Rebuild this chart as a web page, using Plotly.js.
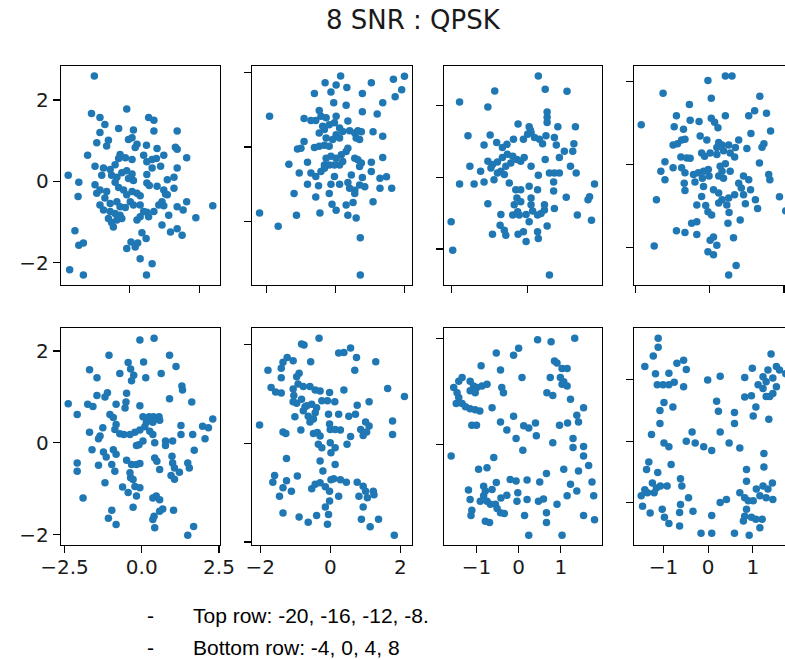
<!DOCTYPE html>
<html>
<head>
<meta charset="utf-8">
<script src="https://cdn.plot.ly/plotly-3.0.1.min.js"></script>
<style>
html,body{margin:0;padding:0;overflow:hidden;background:#fff;}
#chart{width:800px;height:660px;}
</style>
</head>
<body>
<div id="chart"></div>
<script>
// ---- Data: received QPSK symbols [in-phase, quadrature] per SNR (dB) ----
const snrLevels = [-20, -16, -12, -8, -4, 0, 4, 8];

const snr_m20 = [[-0.99,2.59],[-0.07,1.78],[-1.07,1.67],[-0.83,1.57],[-0.69,1.40],[-0.30,1.30],[0.12,1.26],[0.08,1.07],[-0.02,1.03],[0.55,1.57],[0.70,1.50],[0.70,1.24],[1.36,1.24],[-0.83,1.20],[-0.59,1.01],[-0.92,0.95],[-0.64,0.87],[0.22,0.91],[0.49,0.89],[0.79,0.81],[0.98,0.64],[1.31,0.84],[1.36,0.79],[-1.18,0.64],[-0.26,0.66],[-0.30,0.56],[-0.11,0.58],[0.08,0.54],[0.41,0.64],[0.50,0.48],[0.65,0.54],[0.65,0.33],[0.89,0.37],[1.63,0.58],[1.36,0.33],[-0.97,0.37],[-0.73,0.33],[-0.78,0.15],[-0.54,0.29],[-0.40,0.41],[-0.50,0.15],[-0.35,0.10],[-0.21,0.21],[-0.07,0.26],[0.08,0.18],[-0.02,0.07],[0.12,0.02],[-1.73,0.15],[-1.43,-0.02],[-1.45,-0.37],[-0.97,-0.08],[-0.92,-0.29],[-0.83,-0.21],[-0.64,-0.25],[-0.40,-0.02],[-0.30,-0.15],[-0.16,-0.21],[-0.07,-0.33],[0.08,-0.25],[0.22,-0.29],[0.31,-0.35],[0.50,-0.04],[0.57,-0.10],[0.79,-0.12],[0.98,-0.21],[1.03,-0.31],[1.08,0.04],[1.27,0.10],[-0.83,-0.58],[-0.73,-0.70],[-0.54,-0.54],[-0.35,-0.50],[-0.26,-0.62],[-0.11,-0.64],[0.03,-0.50],[0.12,-0.58],[0.31,-0.58],[0.41,-0.74],[0.50,-0.76],[0.70,-0.74],[0.93,-0.50],[0.98,-0.60],[1.12,-0.83],[1.36,-0.62],[1.53,-0.70],[1.63,-0.50],[1.89,-0.89],[2.37,-0.60],[-0.59,-0.91],[-0.50,-1.01],[-0.45,-1.12],[-0.35,-0.95],[-0.26,-0.83],[0.22,-0.95],[0.31,-0.87],[0.55,-0.87],[0.93,-1.07],[1.17,-1.24],[1.36,-1.16],[1.50,-1.32],[-1.54,-1.21],[-1.43,-1.57],[-1.30,-1.51],[-0.07,-1.65],[0.05,-1.49],[0.17,-1.61],[0.24,-1.51],[0.36,-1.26],[0.48,-1.40],[0.31,-1.90],[0.65,-2.02],[0.49,-2.30],[-1.69,-2.17],[-1.30,-2.30],[0.77,0.56],[0.84,-0.58],[-0.21,-0.91],[-0.69,-0.41],[-0.54,-0.74],[-0.40,-0.79],[0.17,0.83],[0.50,0.17],[1.08,-0.33],[1.27,-0.17]];

const snr_m16 = [[0.15,1.91],[-0.30,1.73],[0.02,1.67],[0.33,1.60],[-0.13,1.48],[-0.61,1.44],[1.04,1.73],[1.68,1.82],[2.00,1.90],[1.92,1.54],[1.73,1.35],[0.78,1.44],[-0.05,1.19],[0.31,1.12],[1.37,1.19],[-1.91,0.83],[-0.47,0.98],[-0.42,0.83],[-0.57,0.71],[-0.91,0.77],[-0.71,0.71],[-0.27,0.79],[-0.18,0.60],[0.02,0.83],[-0.37,0.56],[-0.32,0.47],[-0.03,0.65],[0.12,0.51],[0.36,0.70],[0.21,0.42],[0.02,0.33],[0.12,0.24],[-0.08,0.20],[0.41,0.44],[0.56,0.38],[0.65,0.44],[0.75,0.41],[0.60,0.24],[0.70,0.20],[0.78,0.95],[1.21,0.89],[1.09,0.41],[1.37,0.29],[-0.91,0.15],[-1.10,-0.05],[-1.00,-0.03],[-0.61,-0.01],[-0.47,0.02],[-0.32,0.05],[-0.18,0.02],[0.36,-0.03],[0.31,-0.12],[0.17,-0.21],[0.02,-0.30],[-0.13,-0.25],[-0.27,-0.30],[-0.32,-0.48],[-0.18,-0.48],[-0.03,-0.48],[0.12,-0.48],[0.21,-0.39],[0.56,-0.30],[0.65,-0.34],[0.75,-0.43],[1.04,-0.41],[1.37,-0.28],[-1.35,-0.46],[-0.81,-0.41],[-1.05,-0.70],[-0.71,-0.70],[-0.57,-0.79],[-0.42,-0.66],[-0.32,-0.57],[-0.81,-1.00],[-0.49,-1.04],[-0.13,-1.00],[0.12,-1.00],[0.36,-0.95],[0.41,-1.11],[0.56,-1.16],[0.70,-1.02],[0.85,-1.07],[0.78,-0.82],[1.04,-0.66],[1.29,-0.84],[1.48,-0.80],[1.63,-1.11],[1.29,-1.11],[-1.20,-1.25],[-0.57,-1.34],[-0.18,-1.25],[-0.10,-1.54],[0.02,-1.70],[0.31,-1.56],[0.51,-1.49],[0.56,-1.25],[0.36,-1.83],[0.60,-1.91],[1.09,-1.47],[-2.20,-1.77],[-1.66,-2.13],[-1.13,-1.83],[-0.45,-1.77],[0.72,-2.44],[0.72,-3.44],[0.70,-0.52],[-0.47,0.38],[-0.27,0.24],[0.46,-0.75],[-0.03,-0.79]];

const snr_m12 = [[0.28,2.83],[0.46,2.46],[1.03,2.40],[-0.86,2.41],[-1.78,2.10],[-1.04,1.96],[0.51,1.82],[0.51,1.68],[0.51,1.53],[-0.25,1.49],[0.04,1.41],[0.79,1.41],[1.25,1.41],[-1.56,1.16],[-0.98,1.18],[-1.14,0.90],[-0.81,0.97],[-0.66,0.83],[-0.54,0.92],[-0.37,1.06],[-0.11,1.06],[0.00,1.20],[0.09,1.25],[0.18,1.11],[0.31,1.06],[0.39,0.94],[0.48,1.16],[0.70,1.11],[0.75,0.90],[0.07,1.32],[1.21,0.94],[1.18,0.73],[0.96,0.73],[0.83,0.55],[1.12,0.31],[1.27,0.12],[0.46,0.50],[-1.51,0.31],[-1.23,0.17],[-1.04,0.45],[-0.92,0.36],[-0.96,0.26],[-0.79,0.43],[-0.66,0.55],[-0.53,0.64],[-0.39,0.59],[-0.28,0.50],[-0.18,0.45],[-0.09,0.55],[-0.44,0.40],[-0.57,0.31],[-0.70,0.17],[-0.61,0.08],[-0.79,0.12],[-0.88,-0.07],[-1.14,-0.13],[-1.40,-0.19],[-1.78,-0.19],[-0.48,-0.16],[0.09,0.31],[0.28,0.06],[0.57,0.12],[0.70,0.12],[0.83,0.12],[0.68,-0.13],[0.68,-0.38],[1.75,-0.19],[1.62,-0.54],[1.58,-0.63],[1.01,-0.56],[1.30,-1.05],[1.67,-1.20],[-0.31,-0.35],[-0.18,-0.35],[0.04,-0.25],[-0.28,-0.58],[-0.35,-0.77],[-0.18,-0.68],[0.09,-0.58],[0.09,-0.77],[0.26,-0.35],[0.44,-0.77],[0.44,-0.91],[0.70,-0.87],[-0.26,-0.96],[-0.39,-1.05],[-0.22,-1.05],[-0.04,-1.04],[0.13,-0.94],[0.26,-1.05],[0.35,-1.01],[0.04,-1.24],[-1.04,-0.74],[-0.70,-1.04],[-0.72,-1.34],[-0.61,-1.48],[-0.57,-1.62],[-0.92,-1.59],[-0.25,-1.59],[-0.11,-1.52],[-0.04,-1.79],[0.26,-1.52],[0.28,-1.71],[0.51,-1.36],[-2.00,-1.24],[-1.96,-2.04],[0.57,-2.73]];

const snr_m8 = [[-0.05,2.03],[0.42,2.14],[0.60,2.14],[-1.26,1.72],[0.04,1.60],[1.35,1.65],[-0.55,1.45],[-1.85,0.96],[-0.90,1.18],[-0.96,0.91],[-0.71,0.85],[-0.53,1.07],[-0.29,1.04],[0.04,1.12],[0.13,1.02],[0.22,0.89],[0.42,1.18],[1.05,1.18],[1.21,1.30],[1.53,1.24],[1.64,0.81],[1.11,0.75],[1.46,0.50],[1.41,0.42],[-0.99,0.47],[-0.87,0.50],[-0.76,0.59],[-0.67,0.61],[-0.26,0.69],[-0.08,0.59],[0.24,0.53],[0.19,0.41],[0.33,0.47],[0.51,0.47],[0.69,0.41],[0.78,0.59],[1.00,0.39],[-0.22,0.28],[-0.14,0.20],[0.01,0.28],[0.19,0.24],[0.37,0.33],[0.55,0.28],[0.67,0.18],[-0.78,0.18],[-0.62,0.16],[-0.53,0.15],[-1.21,0.07],[-1.32,-0.16],[-0.99,-0.08],[-0.76,-0.08],[-0.67,-0.20],[-0.44,-0.24],[-0.31,-0.20],[-0.17,-0.16],[-0.04,-0.12],[0.28,-0.04],[0.33,-0.16],[0.42,0.02],[0.55,-0.16],[0.24,-0.28],[0.37,-0.33],[-1.21,-0.37],[-0.69,-0.45],[-0.40,-0.42],[-0.20,-0.33],[-0.17,-0.53],[-0.02,-0.28],[0.78,-0.45],[0.91,-0.28],[1.05,-0.37],[0.85,-0.57],[1.10,-0.61],[1.34,0.04],[1.59,-0.24],[1.62,-0.37],[1.88,-0.78],[2.05,-1.12],[1.23,-0.85],[1.29,-1.06],[0.91,-0.73],[0.96,-0.95],[0.67,-0.73],[-1.44,-0.85],[-0.67,-0.63],[-0.22,-0.77],[-0.35,-0.98],[-0.11,-0.99],[-0.05,-1.14],[0.05,-1.22],[0.10,-0.61],[0.24,-0.69],[0.24,-0.93],[0.33,-0.85],[0.51,-0.81],[0.46,-0.98],[0.52,-1.16],[0.49,-1.42],[0.82,-1.34],[-0.90,-1.60],[-0.67,-1.64],[-0.49,-1.42],[-0.35,-1.38],[-0.35,-1.69],[0.01,-1.83],[0.10,-1.75],[0.19,-1.95],[-0.05,-2.11],[0.10,-2.18],[-1.50,-1.97],[0.64,-1.77],[0.71,-2.44],[0.51,-2.67]];

const snr_m4 = [[-0.06,2.24],[0.40,2.28],[-1.06,1.91],[0.90,1.91],[-0.44,1.75],[0.06,1.76],[1.11,1.66],[-1.69,1.59],[-1.45,1.42],[-0.71,1.51],[-0.36,1.61],[-0.26,1.47],[-0.33,1.35],[0.13,1.42],[0.63,1.51],[1.30,1.24],[1.32,1.15],[-1.11,1.09],[-1.45,1.03],[-1.75,0.84],[-1.58,0.79],[-1.19,1.00],[-0.83,0.84],[-0.49,1.08],[-0.51,0.89],[-0.06,0.81],[0.90,0.96],[1.62,0.89],[-2.38,0.85],[-2.09,0.62],[-1.03,0.62],[-0.92,0.55],[-0.54,0.76],[0.04,0.57],[0.24,0.57],[0.38,0.57],[0.56,0.57],[0.15,0.45],[0.36,0.45],[0.58,0.49],[1.27,0.38],[1.97,0.36],[2.30,0.52],[2.16,0.33],[2.05,0.09],[-1.26,0.33],[-1.35,0.15],[-1.40,0.09],[-1.69,0.23],[-0.83,0.40],[-0.87,0.29],[-0.71,0.20],[-0.58,0.18],[-0.38,0.18],[-0.22,0.23],[-0.06,0.28],[0.10,0.35],[0.26,0.25],[0.36,0.18],[-0.09,-0.04],[-0.17,-0.06],[0.04,0.04],[0.42,0.00],[0.77,0.04],[0.77,-0.06],[1.00,0.04],[1.27,0.18],[1.65,0.18],[1.70,-0.16],[-1.61,-0.15],[-1.24,-0.20],[-1.15,-0.31],[-1.40,-0.49],[-0.92,-0.15],[-0.83,-0.25],[-0.97,-0.47],[-0.49,-0.38],[-0.33,-0.47],[-0.17,-0.47],[-0.06,-0.45],[0.42,-0.33],[0.49,-0.40],[0.58,-0.58],[0.98,-0.29],[1.00,-0.44],[1.06,-0.55],[1.22,-0.64],[0.95,-0.71],[1.06,-0.79],[1.49,-0.44],[1.54,-0.55],[-2.09,-0.44],[-2.09,-0.62],[-1.90,-1.20],[-1.19,-0.87],[-0.62,-0.96],[-0.44,-1.08],[-0.36,-0.76],[-0.28,-0.80],[-0.22,-0.95],[-0.06,-0.98],[-0.17,-1.16],[-0.28,-1.40],[0.36,-1.20],[0.47,-1.16],[0.58,-1.24],[0.68,-1.44],[0.58,-1.49],[0.40,-1.60],[0.36,-1.67],[0.42,-1.85],[1.03,-1.47],[-0.97,-1.47],[-1.08,-1.64],[-0.83,-1.78],[1.49,-2.01],[1.68,-1.82],[-0.87,-0.62],[-0.38,-0.65]];

const snr_0 = [[-0.32,2.13],[-0.82,2.01],[-0.75,1.99],[0.24,1.83],[0.39,1.84],[0.58,1.93],[0.75,1.74],[1.30,1.65],[-1.23,1.74],[-1.35,1.64],[-1.06,1.67],[-0.56,1.65],[-1.78,1.48],[-1.40,1.52],[-1.40,1.33],[-0.89,1.42],[-0.96,1.35],[0.70,1.48],[-1.69,1.13],[-1.56,1.04],[-1.40,1.02],[-1.06,1.10],[-1.04,0.97],[-0.92,1.20],[-0.77,1.15],[-0.58,1.15],[-0.43,1.08],[-0.29,1.06],[-0.02,1.03],[0.39,1.08],[1.64,1.11],[2.12,0.95],[1.11,0.84],[0.77,0.77],[-1.06,0.84],[-0.96,0.81],[-0.82,0.89],[-0.72,0.74],[-0.77,0.66],[-0.67,0.76],[-0.53,0.79],[-0.39,0.72],[-0.43,0.62],[-0.24,0.86],[-0.08,0.86],[0.13,0.84],[-0.05,0.59],[0.24,0.59],[0.53,0.55],[0.72,0.59],[-1.01,0.54],[-0.63,0.55],[-0.48,0.49],[-0.58,0.43],[-2.02,0.37],[-0.84,0.27],[-1.35,0.23],[-1.27,0.20],[-0.48,0.20],[-0.37,0.22],[-0.29,0.15],[-0.02,0.39],[0.00,0.28],[0.14,0.28],[0.29,0.27],[0.87,0.28],[1.01,0.43],[1.11,0.35],[1.04,0.23],[0.94,0.16],[0.58,0.14],[0.48,-0.02],[1.78,0.45],[1.78,0.18],[-0.34,-0.02],[-0.24,-0.09],[0.00,0.01],[0.14,-0.09],[0.02,-0.19],[-1.25,-0.31],[-0.29,-0.36],[0.14,-0.43],[-0.21,-0.56],[-1.59,-0.65],[-1.64,-0.79],[-1.25,-0.76],[-0.94,-0.66],[-1.35,-0.90],[-1.11,-0.97],[-1.45,-1.07],[-0.53,-0.92],[-0.43,-0.83],[-0.29,-0.80],[-0.14,-0.88],[0.02,-0.74],[-0.02,-0.97],[0.10,-0.72],[0.29,-0.74],[0.46,-0.79],[0.24,-1.07],[-0.02,-1.17],[0.77,-0.79],[0.94,-0.87],[1.01,-0.97],[0.82,-1.07],[1.06,-1.10],[1.23,-0.97],[1.25,-1.04],[-0.14,-1.29],[-0.05,-1.44],[-0.39,-1.46],[-0.63,-1.60],[-0.89,-1.49],[-1.35,-1.41],[-0.08,-1.64],[0.94,-1.29],[0.89,-1.54],[1.14,-1.69],[1.38,-1.54],[1.83,-1.86]];

const snr_4 = [[0.45,1.97],[0.77,1.93],[1.33,2.00],[-0.53,1.72],[0.00,1.81],[-0.12,1.68],[-0.89,1.48],[-0.43,1.40],[0.85,1.57],[0.91,1.53],[1.03,1.43],[1.15,1.43],[0.08,1.26],[0.75,1.26],[0.99,1.26],[1.03,1.13],[1.15,1.10],[1.07,1.18],[-1.34,1.26],[-1.42,1.19],[-1.54,1.07],[-1.46,0.97],[-1.42,0.88],[-1.48,0.77],[-1.34,0.77],[-1.26,0.71],[-1.15,0.67],[-1.03,0.65],[-0.92,0.63],[-1.15,1.19],[-1.07,1.10],[-0.99,1.07],[-0.87,1.10],[-0.75,1.13],[-1.15,1.01],[-1.03,0.97],[-0.40,1.07],[-0.36,0.97],[0.67,0.97],[0.81,0.92],[1.23,0.85],[1.54,0.69],[1.38,0.55],[1.42,0.42],[-0.63,0.69],[-0.12,0.53],[-0.43,0.42],[-0.28,0.27],[0.12,0.35],[0.24,0.31],[0.40,0.40],[0.42,0.16],[-0.06,0.11],[0.97,0.36],[1.16,0.40],[0.10,-0.11],[0.81,0.03],[1.29,0.11],[1.29,-0.06],[1.54,-0.04],[1.54,-0.22],[1.66,-0.40],[1.42,-0.50],[1.74,-0.71],[1.78,-0.97],[-1.11,0.36],[-1.00,0.36],[-1.60,-0.22],[-0.59,-0.25],[-0.75,-0.44],[-0.95,-0.47],[1.07,-0.47],[0.66,-0.55],[-1.19,-0.86],[-1.15,-1.04],[-0.83,-0.79],[-0.79,-0.88],[-0.63,-0.85],[-0.83,-0.97],[-0.91,-1.07],[-0.75,-1.07],[-0.67,-1.13],[-0.55,-1.13],[-0.51,-1.21],[-0.43,-1.29],[-0.34,-1.30],[-1.11,-1.24],[-1.13,-1.34],[-0.79,-1.45],[-0.69,-1.47],[-0.53,-0.72],[-0.42,-1.01],[-0.28,-0.96],[-0.20,-0.66],[-0.06,-0.69],[-0.02,-0.91],[-0.04,-1.07],[0.20,-0.67],[0.20,-1.04],[0.14,-1.34],[0.50,-0.71],[0.47,-1.07],[0.59,-1.03],[0.66,-1.29],[0.66,-1.47],[0.91,-1.13],[1.15,-0.97],[1.23,-0.75],[1.38,-0.88],[1.54,-1.34],[1.80,-1.42],[0.24,-1.71],[1.03,-1.71]];

const snr_8 = [[-1.12,1.68],[-1.12,1.53],[-1.23,1.39],[-1.42,1.22],[-0.70,1.27],[-0.55,1.32],[-0.49,1.17],[-1.18,1.10],[-0.88,1.11],[-1.14,0.92],[-1.01,0.92],[-0.88,0.92],[-0.76,0.96],[-0.55,0.89],[-0.01,1.00],[0.27,1.06],[0.82,1.04],[0.99,1.19],[1.41,1.42],[1.34,1.16],[1.53,1.22],[1.60,1.16],[1.23,1.05],[1.30,0.97],[1.45,1.03],[1.53,0.89],[1.12,0.92],[1.23,0.86],[1.30,0.73],[1.38,0.73],[1.45,0.78],[0.82,0.72],[0.97,0.74],[1.07,0.56],[1.01,0.41],[1.36,0.36],[-0.99,0.63],[-1.08,0.50],[-0.79,0.56],[0.19,0.65],[0.23,0.49],[0.59,0.47],[0.59,0.29],[-1.08,0.29],[-1.27,0.11],[-0.99,-0.03],[-0.88,-0.09],[-0.36,0.15],[-0.49,0.00],[-0.29,-0.03],[-0.10,-0.09],[0.08,-0.15],[0.27,0.15],[0.47,-0.03],[0.71,-0.11],[1.25,-0.20],[1.25,-0.42],[0.86,-0.46],[-1.33,-0.34],[-1.38,-0.46],[-1.13,-0.51],[-0.83,-0.38],[-1.42,-0.79],[-1.50,-0.89],[-1.25,-0.68],[-1.16,-0.76],[-1.07,-0.73],[-0.92,-0.73],[-1.36,-0.84],[-1.21,-0.84],[-0.62,-0.61],[-0.59,-0.73],[-0.44,-0.92],[-1.47,-1.06],[-1.30,-1.17],[-1.03,-1.11],[-0.98,-1.24],[-0.88,-1.34],[-0.62,-1.03],[-0.64,-1.16],[-0.64,-1.38],[-0.34,-1.14],[0.08,-1.21],[0.27,-1.00],[0.41,-0.95],[-0.16,-1.50],[0.08,-1.50],[0.59,-1.50],[0.92,-1.53],[0.71,-0.84],[0.82,-0.92],[0.90,-0.97],[0.86,-1.11],[0.86,-0.65],[1.08,-0.78],[1.23,-0.73],[1.34,-0.78],[1.44,-0.68],[1.16,-0.89],[1.30,-0.92],[1.45,-0.95],[1.01,-0.97],[0.82,-1.22],[0.97,-1.24],[1.07,-1.27],[1.21,-1.27],[1.16,-1.41],[0.79,-1.30],[1.74,1.10]];

const panelData = [snr_m20, snr_m16, snr_m12, snr_m8, snr_m4, snr_0, snr_4, snr_8];

// tick steps per panel (matplotlib auto ticks)
const xTickStep = [2, 2, 2, 2, 2.5, 2, 1, 1];
const yTickStep = [2, 2, 2, 2, 2, 2, 2, 1];

const chartTitle = "8 SNR : QPSK";
const noteLines = ["Top row: -20, -16, -12, -8.", "Bottom row: -4, 0, 4, 8"];

// ---- Layout geometry (pixels) ----
const W = 800, H = 660;
const colLeft = [61, 252.3, 444, 634];
const colW = [159, 159.4, 157.7, 159];
const rowTop = [66, 328.3];
const rowH = [219, 216.7];

const traces = [];
const layout = {
  width: W, height: H,
  margin: {l: 0, r: 0, t: 0, b: 0, pad: 0},
  paper_bgcolor: "#ffffff",
  plot_bgcolor: "#ffffff",
  showlegend: false,
  font: {family: "DejaVu Sans", size: 20, color: "#1a1a1a"},
  annotations: []
};

function paddedRange(vals) {
  let mn = Math.min(...vals), mx = Math.max(...vals);
  const m = 0.05 * (mx - mn);
  return [mn - m, mx + m];
}

panelData.forEach((pts, k) => {
  const row = k < 4 ? 0 : 1, col = k % 4;
  const xs = pts.map(p => p[0]), ys = pts.map(p => p[1]);
  const ax = k + 1;
  traces.push({
    type: "scatter", mode: "markers",
    x: xs, y: ys,
    xaxis: "x" + ax, yaxis: "y" + ax,
    marker: {color: "#1f77b4", size: 7.5, line: {width: 0}},
    hoverinfo: "x+y", name: "SNR " + snrLevels[k]
  });
  const common = {
    showgrid: false, zeroline: false,
    showline: true, mirror: true, linecolor: "#000", linewidth: 1.2,
    ticks: "outside", ticklen: 7, tickwidth: 1.2, tickcolor: "#000",
    tick0: 0,
    tickfont: {family: "DejaVu Sans", size: 20, color: "#1a1a1a"}
  };
  layout["xaxis" + ax] = Object.assign({}, common, {
    domain: [colLeft[col] / W, (colLeft[col] + colW[col]) / W],
    anchor: "y" + ax,
    range: paddedRange(xs),
    dtick: xTickStep[k],
    tickformat: xTickStep[k] === 2.5 ? ".1f" : "",
    showticklabels: row === 1,
    ticklabelstandoff: -3
  });
  layout["yaxis" + ax] = Object.assign({}, common, {
    domain: [1 - (rowTop[row] + rowH[row]) / H, 1 - rowTop[row] / H],
    anchor: "x" + ax,
    range: paddedRange(ys),
    dtick: yTickStep[k],
    showticklabels: col === 0
  });
});

layout.annotations.push({
  text: chartTitle, xref: "paper", yref: "paper",
  x: 414 / W, y: 1 - 20.5 / H, xanchor: "center", yanchor: "middle",
  showarrow: false, font: {family: "DejaVu Sans", size: 26, color: "#1a1a1a"}
});
const lineY = [615.5, 647.5];
noteLines.forEach((t, i) => {
  layout.annotations.push({
    text: "-", xref: "paper", yref: "paper",
    x: 145 / W, y: 1 - lineY[i] / H, xanchor: "left", yanchor: "middle",
    showarrow: false, font: {family: "Liberation Sans", size: 21, color: "#000"}
  });
  layout.annotations.push({
    text: t, xref: "paper", yref: "paper",
    x: 191 / W, y: 1 - lineY[i] / H, xanchor: "left", yanchor: "middle",
    showarrow: false, font: {family: "Liberation Sans", size: 21, color: "#000"}
  });
});

Plotly.newPlot("chart", traces, layout, {staticPlot: true, displayModeBar: false});
</script>
</body>
</html>
